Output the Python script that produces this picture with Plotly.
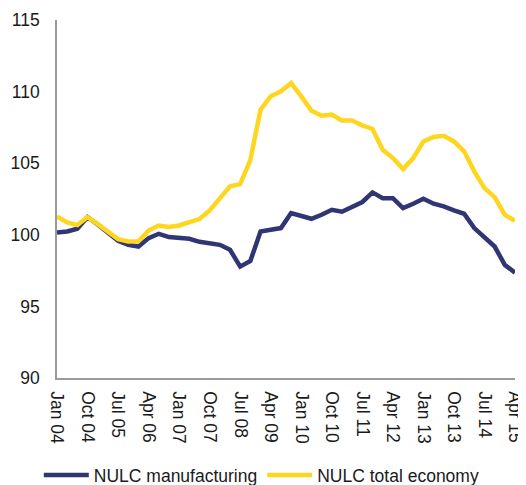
import plotly.graph_objects as go

quarters = [
    "Jan 04", "Apr 04", "Jul 04", "Oct 04", "Jan 05", "Apr 05", "Jul 05", "Oct 05",
    "Jan 06", "Apr 06", "Jul 06", "Oct 06", "Jan 07", "Apr 07", "Jul 07", "Oct 07",
    "Jan 08", "Apr 08", "Jul 08", "Oct 08", "Jan 09", "Apr 09", "Jul 09", "Oct 09",
    "Jan 10", "Apr 10", "Jul 10", "Oct 10", "Jan 11", "Apr 11", "Jul 11", "Oct 11",
    "Jan 12", "Apr 12", "Jul 12", "Oct 12", "Jan 13", "Apr 13", "Jul 13", "Oct 13",
    "Jan 14", "Apr 14", "Jul 14", "Oct 14", "Jan 15", "Apr 15",
]

nulc_manufacturing = [
    100.16, 100.23, 100.42, 101.24, 100.72, 100.18, 99.58, 99.30,
    99.18, 99.77, 100.07, 99.84, 99.81, 99.72, 99.51, 99.44,
    99.30, 98.95, 97.78, 98.18, 100.23, 100.35, 100.47, 101.52,
    101.33, 101.12, 101.40, 101.75, 101.61, 101.98, 102.29, 102.96,
    102.56, 102.56, 101.86, 102.17, 102.52, 102.17, 101.98, 101.70,
    101.47, 100.47, 99.77, 99.18, 97.90, 97.36,
]

nulc_total_economy = [
    101.28, 100.86, 100.68, 101.24, 100.74, 100.22, 99.70, 99.53,
    99.55, 100.30, 100.65, 100.54, 100.65, 100.89, 101.10, 101.70,
    102.56, 103.38, 103.54, 105.24, 108.74, 109.67, 110.02, 110.60,
    109.67, 108.67, 108.32, 108.39, 107.99, 107.99, 107.64, 107.39,
    105.94, 105.36, 104.59, 105.36, 106.52, 106.83, 106.92, 106.52,
    105.83, 104.43, 103.26, 102.63, 101.40, 100.98,
]

tick_labels = [
    "Jan 04", "Oct 04", "Jul 05", "Apr 06", "Jan 07", "Oct 07", "Jul 08", "Apr 09",
    "Jan 10", "Oct 10", "Jul 11", "Apr 12", "Jan 13", "Oct 13", "Jul 14", "Apr 15",
]

y_ticks = [90, 95, 100, 105, 110, 115]

fig = go.Figure()
fig.add_trace(go.Scatter(
    x=quarters, y=nulc_manufacturing, mode="lines", name="NULC manufacturing",
    line=dict(color="#2F3673", width=4.5),
))
fig.add_trace(go.Scatter(
    x=quarters, y=nulc_total_economy, mode="lines", name="NULC total economy",
    line=dict(color="#FFD61F", width=4.5),
))

font_family = "Liberation Sans, Arial, sans-serif"

# The page adds an 8px body margin; sizes are chosen so the plot sits where the reference's does.
fig.update_layout(
    width=518, height=485,
    margin=dict(l=49, r=11, t=12, b=115),
    paper_bgcolor="white", plot_bgcolor="white",
    font=dict(family=font_family, size=17.5, color="#1a1a1a"),
    showlegend=True,
    legend=dict(
        orientation="h", xref="container", yref="container",
        x=0.49, xanchor="center", y=0.0, yanchor="bottom",
        font=dict(size=17.5, color="#1a1a1a"), itemwidth=45, tracegroupgap=0,
    ),
    xaxis=dict(
        type="category", categoryorder="array", categoryarray=quarters,
        range=[0, len(quarters) - 1], automargin=False,
        tickmode="array", tickvals=tick_labels, ticktext=tick_labels,
        tickangle=90, showgrid=False, zeroline=False,
        showline=True, linecolor="#9a9a9a", linewidth=1.5,
        ticks="", ticklabelstandoff=8,
        tickfont=dict(size=17.5, color="#1a1a1a"),
    ),
    yaxis=dict(
        range=[90, 115], tickmode="array", tickvals=y_ticks, automargin=False,
        showgrid=False, zeroline=False,
        showline=True, linecolor="#9a9a9a", linewidth=1.5,
        ticks="", ticklabelstandoff=12,
        tickfont=dict(size=17.5, color="#1a1a1a"),
    ),
)

fig.write_html("out.html")
